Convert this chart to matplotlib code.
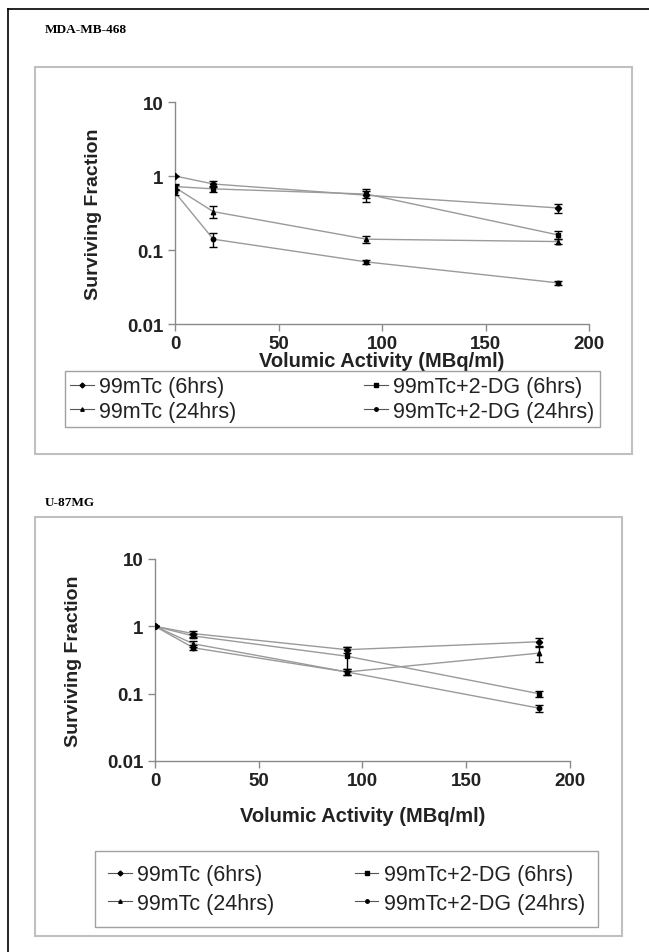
import numpy as np
import matplotlib
matplotlib.use("Agg")
import matplotlib.pyplot as plt
from matplotlib.patches import Rectangle
from matplotlib.lines import Line2D

plt.rcParams['font.family'] = ['Liberation Sans', 'DejaVu Sans']

# activity (MBq/ml)
dose = [0, 18.5, 92.5, 185]
x_ticks = [0, 50, 100, 150, 200]
y_ticks = [0.01, 0.1, 1, 10]
y_tick_labels = ["0.01", "0.1", "1", "10"]
labels = ["99mTc (6hrs)", "99mTc+2-DG (6hrs)", "99mTc (24hrs)", "99mTc+2-DG (24hrs)"]

# MDA-MB-468
mda_tc6 = [1.0, 0.78, 0.55, 0.37]
mda_tc6_err = [0.0, 0.08, 0.11, 0.05]
mda_dg6 = [0.72, 0.67, 0.57, 0.16]
mda_dg6_err = [0.05, 0.06, 0.06, 0.02]
mda_tc24 = [0.70, 0.33, 0.14, 0.13]
mda_tc24_err = [0.05, 0.06, 0.015, 0.01]
mda_dg24 = [0.60, 0.14, 0.069, 0.036]
mda_dg24_err = [0.04, 0.03, 0.004, 0.002]

# U-87MG
u87_tc6 = [1.0, 0.78, 0.45, 0.59]
u87_tc6_err = [0.0, 0.08, 0.05, 0.08]
u87_dg6 = [1.0, 0.72, 0.36, 0.10]
u87_dg6_err = [0.0, 0.06, 0.14, 0.01]
u87_tc24 = [1.0, 0.55, 0.21, 0.40]
u87_tc24_err = [0.0, 0.06, 0.02, 0.10]
u87_dg24 = [1.0, 0.48, 0.21, 0.061]
u87_dg24_err = [0.0, 0.04, 0.02, 0.008]

markers = ['D', 's', '^', 'o']
W, H = 649, 953
fig = plt.figure(figsize=(W / 100, H / 100), dpi=100)


def fx(px):
    return px / W


def fy(py):
    return 1 - py / H


# outer frame (left + top only, right edge is cut)
fig.add_artist(Line2D([fx(8), fx(8)], [fy(10), 0], color='black', lw=1.2))
fig.add_artist(Line2D([fx(8), 1], [fy(10), fy(10)], color='black', lw=1.2))

# gray panel boxes
fig.add_artist(Rectangle((fx(35), fy(455)), fx(632 - 35), (455 - 68) / H,
                         transform=fig.transFigure, fill=False, ec='#c0c0c0', lw=1.5))
fig.add_artist(Rectangle((fx(35), fy(937)), fx(622 - 35), (937 - 518) / H,
                         transform=fig.transFigure, fill=False, ec='#c0c0c0', lw=1.5))

fig.text(fx(45), fy(30), "MDA-MB-468", family='Liberation Serif', weight='bold',
         fontsize=9.5, va='center', ha='left')
fig.text(fx(45), fy(503), "U-87MG", family='Liberation Serif', weight='bold',
         fontsize=9.5, va='center', ha='left')


def panel(rect, series, errs, leg_box, xpad, ypad, lspace, bpad):
    ax = fig.add_axes(rect)
    for ys, es, m, lab in zip(series, errs, markers, labels):
        ax.plot(dose, ys, color='#9a9a9a', lw=1.0, zorder=2)
        ax.errorbar(dose, ys, yerr=es, fmt=m, color='black', ms=3.2, ecolor='black',
                    elinewidth=1.0, capsize=3, capthick=1.0, zorder=3, label=lab)
    ax.set_yscale('log')
    ax.set_ylim(0.01, 10)
    ax.set_xlim(0, 200)
    ax.set_yticks(y_ticks)
    ax.set_yticklabels(y_tick_labels)
    ax.minorticks_off()
    ax.set_xticks(x_ticks)
    for s in ['top', 'right']:
        ax.spines[s].set_visible(False)
    for s in ['left', 'bottom']:
        ax.spines[s].set_color('#8a8a8a')
        ax.spines[s].set_linewidth(1.0)
    ax.tick_params(colors='#8a8a8a', labelcolor='#222222', length=5, width=1.0,
                   labelsize=13.5)
    ax.tick_params(axis='x', pad=3)
    for t in ax.get_xticklabels() + ax.get_yticklabels():
        t.set_fontweight('bold')
    ax.set_xlabel("Volumic Activity (MBq/ml)", fontsize=14.5, weight='bold', color='#222222',
                  labelpad=xpad)
    ax.set_ylabel("Surviving Fraction", fontsize=14, weight='bold', color='#222222',
                  labelpad=ypad)
    handles = [Line2D([], [], color='#555555', lw=0.8, marker=m, ms=2.5, mfc='black', mec='black')
               for m in markers]
    # column-wise fill: reorder so rows read (6hrs, 6hrs) / (24hrs, 24hrs)
    order = [0, 2, 1, 3]
    x0, y0, x1, y1 = leg_box
    leg = ax.legend([handles[i] for i in order], [labels[i] for i in order], ncol=2,
                    loc='center', mode='expand',
                    bbox_to_anchor=(fx(x0), fy(y1), fx(x1 - x0), (y1 - y0) / H),
                    bbox_transform=fig.transFigure, fontsize=15.5, frameon=True,
                    fancybox=False, edgecolor='#8a8a8a', handlelength=1.1,
                    handletextpad=0.25, columnspacing=1.0, borderaxespad=0,
                    labelspacing=lspace, borderpad=bpad)
    leg.get_frame().set_linewidth(1.0)
    for t in leg.get_texts():
        t.set_color('#222222')
    return ax


panel([fx(175), fy(325), fx(589 - 175), (325 - 103) / H],
      [mda_tc6, mda_dg6, mda_tc24, mda_dg24],
      [mda_tc6_err, mda_dg6_err, mda_tc24_err, mda_dg24_err],
      (65, 368, 600, 432), -1, 18, 0.15, 0.25)

panel([fx(155), fy(762), fx(570 - 155), (762 - 560) / H],
      [u87_tc6, u87_dg6, u87_tc24, u87_dg24],
      [u87_tc6_err, u87_dg6_err, u87_tc24_err, u87_dg24_err],
      (95, 848, 598, 932), 12, 18, 0.35, 0.6)

fig.savefig("out.png", dpi=100)
